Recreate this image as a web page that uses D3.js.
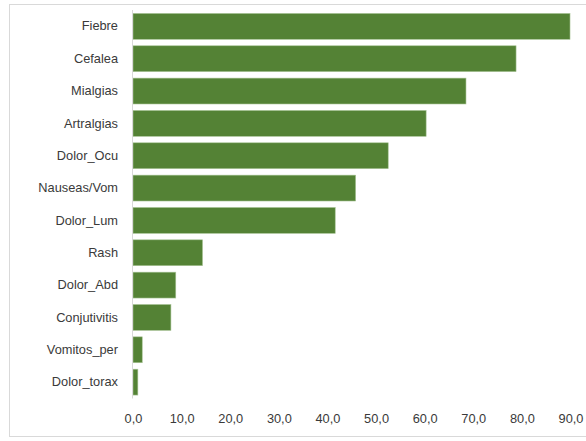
<!DOCTYPE html>
<html><head><meta charset="utf-8">
<script src="https://cdn.jsdelivr.net/npm/d3@7"></script>
<style>body{margin:0;background:#fff}svg{display:block}</style>
</head><body>
<script>
const categories = ["Fiebre","Cefalea","Mialgias","Artralgias","Dolor_Ocu","Nauseas/Vom","Dolor_Lum","Rash","Dolor_Abd","Conjutivitis","Vomitos_per","Dolor_torax"];
const values = [89.9,78.8,68.5,60.3,52.5,45.8,41.6,14.3,8.8,7.8,1.9,1.0];
const tickValues = [0,10,20,30,40,50,60,70,80,90];

const W = 586, H = 441;
const svg = d3.select("body").append("svg").attr("width", W).attr("height", H);
const font = "'Liberation Sans', Arial, sans-serif";

svg.append("rect").attr("x", 9.5).attr("y", 4.5).attr("width", 590).attr("height", 432)
  .attr("fill", "#fff").attr("stroke", "#d9d9d9").attr("stroke-width", 1);

const x = d3.scaleLinear().domain([0, 90]).range([133, 570.5]);
const y = d3.scaleBand().domain(categories).range([10.2, 398.3]).paddingInner(0.2).paddingOuter(0.1);

svg.append("g").selectAll("rect").data(categories).join("rect")
  .attr("x", x(0))
  .attr("y", d => y(d))
  .attr("width", (d, i) => x(values[i]) - x(0))
  .attr("height", y.bandwidth())
  .attr("fill", "#548235")
  .attr("stroke", "#a8c496").attr("stroke-width", 0.6);

// vertical axis line
svg.append("line").attr("x1", 132.5).attr("x2", 132.5).attr("y1", 10).attr("y2", 398.5)
  .attr("stroke", "#d9d9d9").attr("stroke-width", 1);

const yAxis = d3.axisLeft(y).tickSize(0).tickPadding(14);
const gy = svg.append("g").attr("transform", "translate(132,0)").call(yAxis);
gy.select(".domain").remove();
gy.selectAll("text").attr("font-family", font).attr("font-size", 12.8).attr("fill", "#3a3a3a");

const xAxis = d3.axisBottom(x).tickValues(tickValues).tickSize(0).tickPadding(0)
  .tickFormat(d => d3.format(".1f")(d).replace(".", ","));
const gx = svg.append("g").attr("transform", "translate(0,414)").call(xAxis);
gx.select(".domain").remove();
gx.selectAll("text").attr("font-family", font).attr("font-size", 12.8).attr("fill", "#3a3a3a");
</script>
</body></html>
